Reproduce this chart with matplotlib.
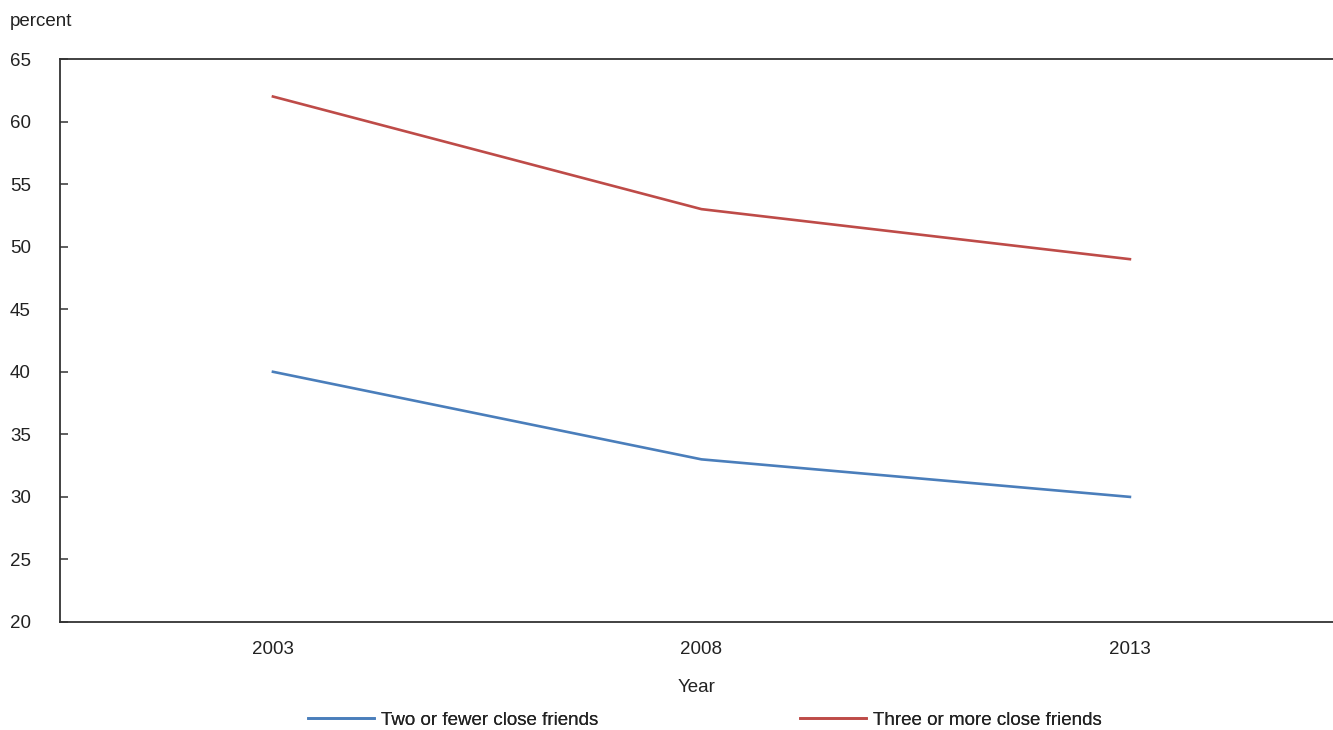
import matplotlib.pyplot as plt

plt.rcParams['font.family'] = ['Liberation Sans', 'DejaVu Sans']

years = ["2003", "2008", "2013"]
two_or_fewer = [40, 33, 30]
three_or_more = [62, 53, 49]

blue = "#4a7ebb"
red = "#be4b48"
fs = 13.5

fig = plt.figure(figsize=(13.33, 7.3), dpi=100)
ax = fig.add_axes([60 / 1333, 1 - 622 / 730, 1273 / 1333, 563 / 730])

x = range(len(years))
l1, = ax.plot(x, two_or_fewer, color=blue, lw=1.9)
l2, = ax.plot(x, three_or_more, color=red, lw=1.9)

ax.set_xlim(-0.497, 2.474)
ax.set_ylim(20, 65)
ax.set_yticks(range(20, 66, 5))
ax.set_xticks(list(x))
ax.set_xticklabels(years)

ax.spines["right"].set_visible(False)
for side in ["left", "top", "bottom"]:
    ax.spines[side].set_color("#333333")
    ax.spines[side].set_linewidth(1.3)

ax.tick_params(axis="y", direction="in", length=6, width=1.1, color="#333333",
               pad=21, labelsize=fs, labelcolor="#222222")
ax.tick_params(axis="x", length=0, pad=14, labelsize=fs, labelcolor="#222222")

ax.set_xlabel("Year", fontsize=fs, color="#222222", labelpad=15)
fig.text(10 / 1333, 1 - 22 / 730, "percent", fontsize=fs, color="#222222",
         va="center", ha="left")

# one legend per series so each entry sits at its own spot
for line, label, x0 in [(l1, "Two or fewer close friends", 308),
                        (l2, "Three or more close friends", 800)]:
    leg = fig.legend([line], [label], loc="center left",
                     bbox_to_anchor=(x0 / 1333, 1 - 720 / 730),
                     frameon=False, fontsize=fs, handlelength=3.5,
                     handletextpad=0.4, borderpad=0, borderaxespad=0,
                     labelcolor="#222222")
    fig.add_artist(leg)

fig.savefig("out.png", dpi=100)
